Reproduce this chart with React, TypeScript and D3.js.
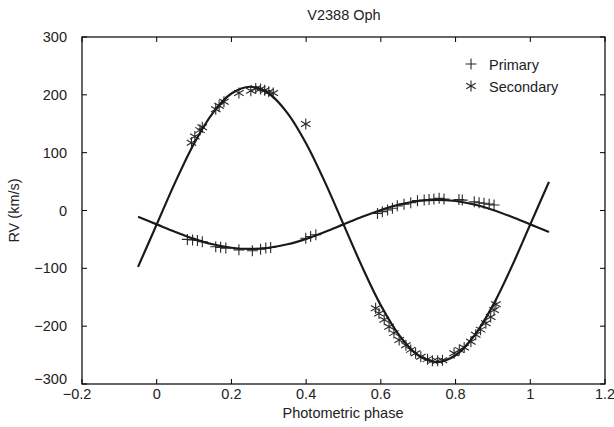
import React from "react";
import * as d3 from "d3";

const curvePhase = [-0.05, 0, 0.05, 0.1, 0.15, 0.2, 0.25, 0.3, 0.35, 0.4, 0.45, 0.5, 0.55, 0.6, 0.65, 0.7, 0.75, 0.8, 0.85, 0.9, 0.95, 1.0, 1.05];
const curvePrimary = [-10.9, -24, -37.1, -49, -58.4, -64.4, -66.5, -64.4, -58.4, -49, -37.1, -24, -10.9, 1, 10.4, 16.4, 18.5, 16.4, 10.4, 1, -10.9, -24, -37.1];
const curveSecondary = [-97.5, -24, 49.5, 116, 168.5, 202.3, 214, 202.3, 168.5, 116, 49.5, -24, -97.5, -164, -216.5, -250.3, -262, -250.3, -216.5, -164, -97.5, -24, 49.5];

const primaryPhase = [0.082, 0.096, 0.109, 0.122, 0.158, 0.171, 0.185, 0.22, 0.256, 0.278, 0.292, 0.305, 0.399, 0.412, 0.426,
  0.591, 0.604, 0.618, 0.631, 0.644, 0.662, 0.68, 0.698, 0.716, 0.729, 0.742, 0.756, 0.769, 0.809, 0.818, 0.85, 0.863, 0.876, 0.89, 0.903];
const primaryRV = [-50, -51, -52, -54, -62.6, -63.7, -65, -68, -69.5, -67, -65, -64, -48, -45, -42,
  -5, -2, 1, 4, 8, 11, 13.5, 17, 18, 19, 20, 21, 20, 19, 18, 15, 13.5, 12.5, 11, 9.5];

const secondaryPhase = [0.093, 0.102, 0.116, 0.122, 0.158, 0.167, 0.18, 0.22, 0.252, 0.265, 0.278, 0.289, 0.3, 0.312, 0.399,
  0.586, 0.595, 0.609, 0.622, 0.635, 0.649, 0.667, 0.68, 0.693, 0.707, 0.725, 0.738, 0.752, 0.765, 0.796, 0.81, 0.823, 0.841, 0.854, 0.867, 0.881, 0.894, 0.903, 0.908];
const secondaryRV = [117, 128, 139, 144, 175, 181, 188, 203, 207, 211, 210, 208, 205.5, 203, 149.6,
  -169, -178, -189, -201, -212, -224, -233, -241, -247, -253, -257, -260, -260, -259, -247, -241, -237, -227, -215, -206, -195, -184, -172, -162];

const xTicks = [-0.2, 0, 0.2, 0.4, 0.6, 0.8, 1, 1.2];
const yTicks = [-300, -200, -100, 0, 100, 200, 300];

const W = 614, H = 427;
const L = 82, R = 605, T = 37, B = 384;
const FONT = "'Liberation Sans', Arial, Helvetica, sans-serif";
const FS = 14.5;

const fmt = (v: number) => (v < 0 ? "\u2212" + String(Math.abs(v)) : String(v));

const plusPath = (r: number) => `M${-r},0H${r}M0,${-r}V${r}`;
const starPath = (r: number) => {
  const a = r * Math.cos(Math.PI / 6), b = r * Math.sin(Math.PI / 6);
  return `M0,${-r}V${r}M${-a},${-b}L${a},${b}M${-a},${b}L${a},${-b}`;
};

export default function App() {
  const x = d3.scaleLinear().domain([-0.2, 1.2]).range([L, R]);
  const y = d3.scaleLinear().domain([-300, 300]).range([B, T]);
  const line = d3.line<[number, number]>().x(d => x(d[0])).y(d => y(d[1])).curve(d3.curveCatmullRom);
  const pPts = curvePhase.map((p, i) => [p, curvePrimary[i]] as [number, number]);
  const sPts = curvePhase.map((p, i) => [p, curveSecondary[i]] as [number, number]);
  const markColor = "#2a2a2a";

  return (
    <svg width={W} height={H} style={{ position: "absolute", left: 0, top: 0, background: "#fff" }} fontFamily={FONT}>
      <rect x={0} y={0} width={W} height={H} fill="#fff" />
      <text x={344} y={20} textAnchor="middle" fontSize={FS} fill="#222">V2388 Oph</text>
      {xTicks.map(t => (
        <g key={"x" + t}>
          <line x1={x(t)} x2={x(t)} y1={B} y2={B - 5} stroke="#000" strokeWidth={1} />
          <line x1={x(t)} x2={x(t)} y1={T} y2={T + 5} stroke="#000" strokeWidth={1} />
          <text x={x(t) - (t < 0 ? 5 : 0)} y={399} textAnchor="middle" fontSize={FS} fill="#222">{fmt(t)}</text>
        </g>
      ))}
      {yTicks.map(t => (
        <g key={"y" + t}>
          <line x1={L} x2={L + 5} y1={y(t)} y2={y(t)} stroke="#000" strokeWidth={1} />
          <line x1={R} x2={R - 5} y1={y(t)} y2={y(t)} stroke="#000" strokeWidth={1} />
          <text x={67} y={y(t) + (t === -300 ? 0 : 5)} textAnchor="end" fontSize={FS} fill="#222">{fmt(t)}</text>
        </g>
      ))}
      <rect x={L} y={T} width={R - L} height={B - T} fill="none" stroke="#000" strokeWidth={1.2} />
      <text x={343} y={418} textAnchor="middle" fontSize={FS} fill="#222">Photometric phase</text>
      <text transform={`translate(19,${(T + B) / 2}) rotate(-90)`} textAnchor="middle" fontSize={FS} fill="#222">RV (km/s)</text>

      {primaryPhase.map((p, i) => (
        <path key={"p" + i} d={plusPath(5.5)} transform={`translate(${x(p)},${y(primaryRV[i])})`} stroke={markColor} strokeWidth={1.1} fill="none" />
      ))}
      {secondaryPhase.map((p, i) => (
        <path key={"s" + i} d={starPath(5.5)} transform={`translate(${x(p)},${y(secondaryRV[i])})`} stroke={markColor} strokeWidth={1.1} fill="none" />
      ))}

      <path d={line(pPts) || ""} fill="none" stroke="#1a1a1a" strokeWidth={2.2} />
      <path d={line(sPts) || ""} fill="none" stroke="#1a1a1a" strokeWidth={2.2} />

      <path d={plusPath(5.5)} transform="translate(471,64)" stroke={markColor} strokeWidth={1.1} fill="none" />
      <text x={489} y={69.5} fontSize={FS} fill="#222">Primary</text>
      <path d={starPath(5.5)} transform="translate(471,86)" stroke={markColor} strokeWidth={1.1} fill="none" />
      <text x={489} y={91.5} fontSize={FS} fill="#222">Secondary</text>
    </svg>
  );
}
